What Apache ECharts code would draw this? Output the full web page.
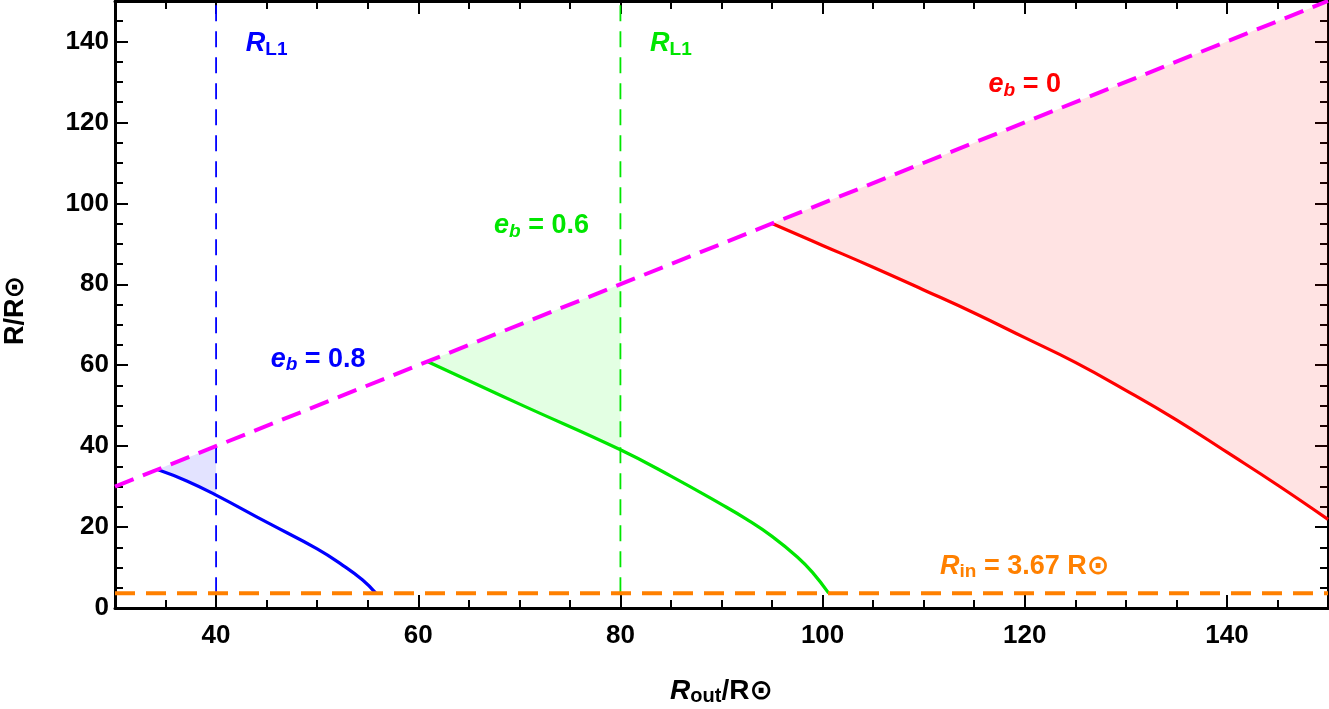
<!DOCTYPE html>
<html>
<head>
<meta charset="utf-8">
<script src="https://cdn.jsdelivr.net/npm/echarts@6/dist/echarts.min.js"></script>
<style>
  html, body { margin: 0; padding: 0; background: #fff; }
  #chart { width: 1329px; height: 709px; }
</style>
</head>
<body>
<div id="chart"></div>
<script>
// axis ticks
const xTicks = [40, 60, 80, 100, 120, 140]
const yTicks = [0, 20, 40, 60, 80, 100, 120, 140]

// R = Rout line, Roche lobe radii, inner radius
const diag = [[30, 30], [150, 150]]
const rL1Blue = 40
const rL1Green = 80
const rIn = 3.67

// curves [Rout, R]
const blueCurve = [[34.2, 34.2], [37.1, 31.4], [40, 27.9], [45, 21.2], [50, 14.6], [52.5, 10.6], [54.5, 6.9], [55.8, 3.67]]
const greenCurve = [[60.9, 60.9], [70.2, 50.2], [80, 39.1], [85, 32.6], [90, 25.6], [92.5, 21.9], [95, 17.7], [97.5, 12.6], [99, 8.8], [100.6, 3.67]]
const redCurve = [[95, 95], [100, 89.6], [105, 84.2], [110, 78.6], [115, 72.9], [120, 66.8], [125, 60.7], [130, 53.8], [135, 46.5], [140, 38.5], [145, 30.4], [150, 21.9]]

const FONT = 'Liberation Sans, Arial, DejaVu Sans, sans-serif'
const SMOOTH = 0.45

// area between a curve and R = Rout up to xmax, as [R, Rout] so the stack runs on R
function fillPair (curve, xmax) {
  const part = curve.filter(p => p[0] <= xmax)
  return {
    base: part.map(p => [p[1], p[0]]),
    gap: part.map(p => [p[0] - p[1], p[0]])
  }
}
const blueFill = fillPair(blueCurve, rL1Blue)
const greenFill = fillPair(greenCurve, rL1Green)
const redFill = fillPair(redCurve, 150)

function richFor (color, size, sub) {
  return {
    i: { fontFamily: FONT, fontWeight: 'bold', fontStyle: 'italic', fontSize: size, lineHeight: 30, color },
    s: { fontFamily: FONT, fontWeight: 'bold', fontSize: sub, lineHeight: 18, verticalAlign: 'bottom', color },
    si: { fontFamily: FONT, fontWeight: 'bold', fontStyle: 'italic', fontSize: sub, lineHeight: 18, verticalAlign: 'bottom', color },
    n: { fontFamily: FONT, fontWeight: 'bold', fontSize: size, lineHeight: 30, color }
  }
}

function note (x, y, text, color) {
  return { value: [x, y], label: { formatter: text, color, rich: richFor(color, 27, 19) } }
}

const notes = [
  note(45.0, 139.4, '{i|R}{s|L1}', '#0000ff'),
  note(85.0, 139.4, '{i|R}{s|L1}', '#00e600'),
  note(120, 129.3, '{i|e}{si|b}{n| = 0}', '#ff0000'),
  note(72.2, 94.4, '{i|e}{si|b}{n| = 0.6}', '#00e600'),
  note(50.1, 61.4, '{i|e}{si|b}{n| = 0.8}', '#0000ff'),
  note(120, 10.2, '{i|R}{s|in}{n| = 3.67 R⊙}', '#ff8000')
]

function xAxisPair (position, labels) {
  const common = { type: 'value', min: 30, max: 150, interval: 5, position, splitLine: { show: false } }
  return [
    Object.assign({}, common, {
      axisLine: { show: true, onZero: false, lineStyle: { color: '#000', width: 3 } },
      axisTick: { show: true, inside: true, length: 13, customValues: xTicks, lineStyle: { color: '#000', width: 2 } },
      axisLabel: { show: labels, customValues: xTicks, margin: 15, color: '#000', fontFamily: FONT, fontWeight: 'bold', fontSize: 26 },
      name: labels ? '{i|R}{s|out}{n|/R⊙}' : '',
      nameLocation: 'middle',
      nameGap: 68,
      nameTextStyle: { rich: richFor('#000', 28, 20) }
    }),
    Object.assign({}, common, {
      axisLine: { show: false, onZero: false },
      axisTick: { show: true, inside: true, length: 8, lineStyle: { color: '#000', width: 2 } },
      axisLabel: { show: false }
    })
  ]
}

function yAxisPair (position, labels) {
  const common = { type: 'value', min: 0, max: 150, interval: 5, position, splitLine: { show: false } }
  return [
    Object.assign({}, common, {
      axisLine: { show: true, onZero: false, lineStyle: { color: '#000', width: 3 } },
      axisTick: { show: true, inside: true, length: 13, customValues: yTicks, lineStyle: { color: '#000', width: 2 } },
      axisLabel: { show: labels, customValues: yTicks, margin: 6, color: '#000', fontFamily: FONT, fontWeight: 'bold', fontSize: 26 },
      name: labels ? '{n|R/R⊙}' : '',
      nameLocation: 'middle',
      nameRotate: 90,
      nameGap: 84,
      nameTextStyle: { rich: richFor('#000', 27, 19), padding: [0, 0, 0, -12] }
    }),
    Object.assign({}, common, {
      axisLine: { show: false, onZero: false },
      axisTick: { show: true, inside: true, length: 8, lineStyle: { color: '#000', width: 2 } },
      axisLabel: { show: false }
    })
  ]
}

function curve (data, color, z) {
  return { type: 'line', data, showSymbol: false, smooth: SMOOTH, lineStyle: { color, width: 3.2 }, z }
}

function fillSeries (fill, stack, color) {
  const common = { type: 'line', stack, encode: { x: 1, y: 0 }, showSymbol: false, smooth: SMOOTH, lineStyle: { opacity: 0 }, z: 1 }
  return [
    Object.assign({ data: fill.base }, common),
    Object.assign({ data: fill.gap, areaStyle: { color, opacity: 1 } }, common)
  ]
}

function dashed (data, color, width, dash, z) {
  return { type: 'line', data, showSymbol: false, lineStyle: { color, width, type: dash }, z }
}

const chart = echarts.init(document.getElementById('chart'))
chart.setOption({
  animation: false,
  backgroundColor: '#fff',
  grid: { left: 115, right: 1, top: 1, bottom: 101, containLabel: false, outerBoundsMode: 'none' },
  xAxis: [].concat(xAxisPair('bottom', true), xAxisPair('top', false)),
  yAxis: [].concat(yAxisPair('left', true), yAxisPair('right', false)),
  series: [].concat(
    fillSeries(redFill, 'red', 'rgba(255,0,0,0.11)'),
    fillSeries(greenFill, 'green', 'rgba(0,255,0,0.11)'),
    fillSeries(blueFill, 'blue', 'rgba(0,0,255,0.11)'),
    [
      curve(redCurve, '#ff0000', 5),
      curve(greenCurve, '#00e600', 5),
      curve(blueCurve, '#0000ff', 5),
      dashed([[rL1Blue, rIn], [rL1Blue, 150]], '#0000ff', 1.8, [16, 10], 4),
      dashed([[rL1Green, rIn], [rL1Green, 150]], '#00e600', 1.8, [16, 10], 4),
      dashed(diag, '#ff00ff', 4, [20, 10], 6),
      dashed([[30, rIn], [150, rIn]], '#ff8000', 4, [20, 11], 6),
      {
        type: 'scatter',
        data: notes,
        symbolSize: 1,
        itemStyle: { color: 'rgba(0,0,0,0)' },
        label: { show: true, position: 'inside', textBorderWidth: 0, opacity: 1 },
        z: 10
      }
    ]
  )
})
</script>
</body>
</html>
